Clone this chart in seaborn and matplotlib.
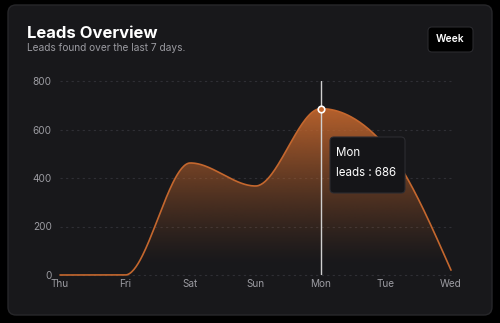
import numpy as np
import pandas as pd
import matplotlib.pyplot as plt
import seaborn as sns
from matplotlib.patches import FancyBboxPatch

# data
days = ["Thu", "Fri", "Sat", "Sun", "Mon", "Tue", "Wed"]
leads = [0, 0, 462, 367, 686, 530, 20]
y_ticks = [0, 200, 400, 600, 800]
active_day = "Mon"

BG = "#000000"
CARD = "#18181b"
CARD_EDGE = "#27272a"
ORANGE = "#c4672e"
MUTED = "#9b9ba1"


def monotone_curve(y, n=60):
    # same smoothing as d3 curveMonotoneX (what the web chart uses)
    y = np.asarray(y, dtype=float)
    x = np.arange(len(y), dtype=float)
    s = np.diff(y)
    m = np.zeros(len(y))
    for i in range(1, len(y) - 1):
        s0, s1 = s[i - 1], s[i]
        p = (s0 + s1) / 2
        m[i] = (np.sign(s0) + np.sign(s1)) * min(abs(s0), abs(s1), 0.5 * abs(p))
    m[0] = (3 * s[0] - m[1]) / 2
    m[-1] = (3 * s[-1] - m[-2]) / 2
    xs, ys = [], []
    for i in range(len(y) - 1):
        t = np.linspace(0, 1, n, endpoint=False)
        h00 = 2 * t**3 - 3 * t**2 + 1
        h10 = t**3 - 2 * t**2 + t
        h01 = -2 * t**3 + 3 * t**2
        h11 = t**3 - t**2
        xs.append(x[i] + t)
        ys.append(h00 * y[i] + h10 * m[i] + h01 * y[i + 1] + h11 * m[i + 1])
    xs.append([x[-1]])
    ys.append([y[-1]])
    return np.concatenate(xs), np.concatenate(ys)


sns.set_theme(style="dark")
plt.rcParams["font.family"] = ["Inter", "DejaVu Sans"]

fig = plt.figure(figsize=(5, 3.23), dpi=100, facecolor=BG)

# background layer in pixel coordinates
bg = fig.add_axes([0, 0, 1, 1], zorder=0)
bg.set_xlim(0, 500)
bg.set_ylim(323, 0)
bg.axis("off")
bg.add_patch(FancyBboxPatch((8, 5), 484, 310, boxstyle="round,pad=0,rounding_size=8",
                            fc=CARD, ec=CARD_EDGE, lw=1))
bg.text(27, 33, "Leads Overview", color="white", fontsize=12, fontweight="bold", va="center")
bg.text(27, 48, "Leads found over the last 7 days.", color=MUTED, fontsize=7.3, va="center")
bg.add_patch(FancyBboxPatch((428, 27), 45, 25, boxstyle="round,pad=0,rounding_size=4",
                            fc="#000000", ec="#2a2a2e", lw=0.8))
bg.text(450.5, 39.5, "Week", color="white", fontsize=7.4, fontweight="semibold",
        ha="center", va="center")

# chart
ax = fig.add_axes([60 / 500, 48 / 323, 391 / 500, 194 / 323], zorder=1)
ax.set_facecolor("none")
xs, ys = monotone_curve(leads)
df = pd.DataFrame({"x": xs, "leads": ys})

for t in y_ticks:
    ax.axhline(t, color="#2f2f35", lw=0.8, ls=(0, (2, 3)), zorder=0)

# gradient fill under the curve
top = max(leads)
v = np.linspace(0, top, 300)[:, None]
alpha = np.clip((v - 40) / (top - 40), 0, 1) ** 1.25 * 0.92
rgba = np.zeros((300, 1, 4))
rgba[..., :3] = [0xc4 / 255, 0x67 / 255, 0x2e / 255]
rgba[..., 3] = alpha[:, 0:1]
poly = ax.fill_between(xs, ys, 0, color="none", lw=0)
im = ax.imshow(rgba, extent=(0, 6, 0, top), origin="lower", aspect="auto", zorder=1)
im.set_clip_path(poly.get_paths()[0], transform=ax.transData)

sns.lineplot(data=df, x="x", y="leads", ax=ax, color=ORANGE, lw=1.2, zorder=2)
for line in ax.lines:
    line.set_clip_on(False)

# hover marker for the active day
i = days.index(active_day)
ax.axvline(i, ymin=0, ymax=1, color="#cfcfcf", lw=1, zorder=3)
ax.scatter([i], [leads[i]], s=22, color=ORANGE, edgecolor="white", linewidth=1.2, zorder=4)

ax.set_xlim(0, len(days) - 1)
ax.set_ylim(0, 800)
ax.set_xticks(range(len(days)))
ax.set_xticklabels(days)
ax.set_yticks(y_ticks)
ax.tick_params(colors=MUTED, labelsize=7.2, length=0)
ax.tick_params(axis="x", pad=3)
ax.tick_params(axis="y", pad=6)
ax.set_xlabel("")
ax.set_ylabel("")
ax.grid(False)
for sp in ax.spines.values():
    sp.set_visible(False)

# tooltip
ov = fig.add_axes([0, 0, 1, 1], zorder=5)
ov.set_xlim(0, 500)
ov.set_ylim(323, 0)
ov.axis("off")
ov.patch.set_alpha(0)
ov.add_patch(FancyBboxPatch((330, 137), 75, 56, boxstyle="round,pad=0,rounding_size=4",
                            fc="#151518", ec="#2c2c31", lw=0.8))
ov.text(336, 153, active_day, color="white", fontsize=8.3, va="center")
ov.text(336, 173, f"leads : {leads[i]}", color="white", fontsize=8.3, va="center")

fig.savefig("out.png", dpi=100, facecolor=BG)
